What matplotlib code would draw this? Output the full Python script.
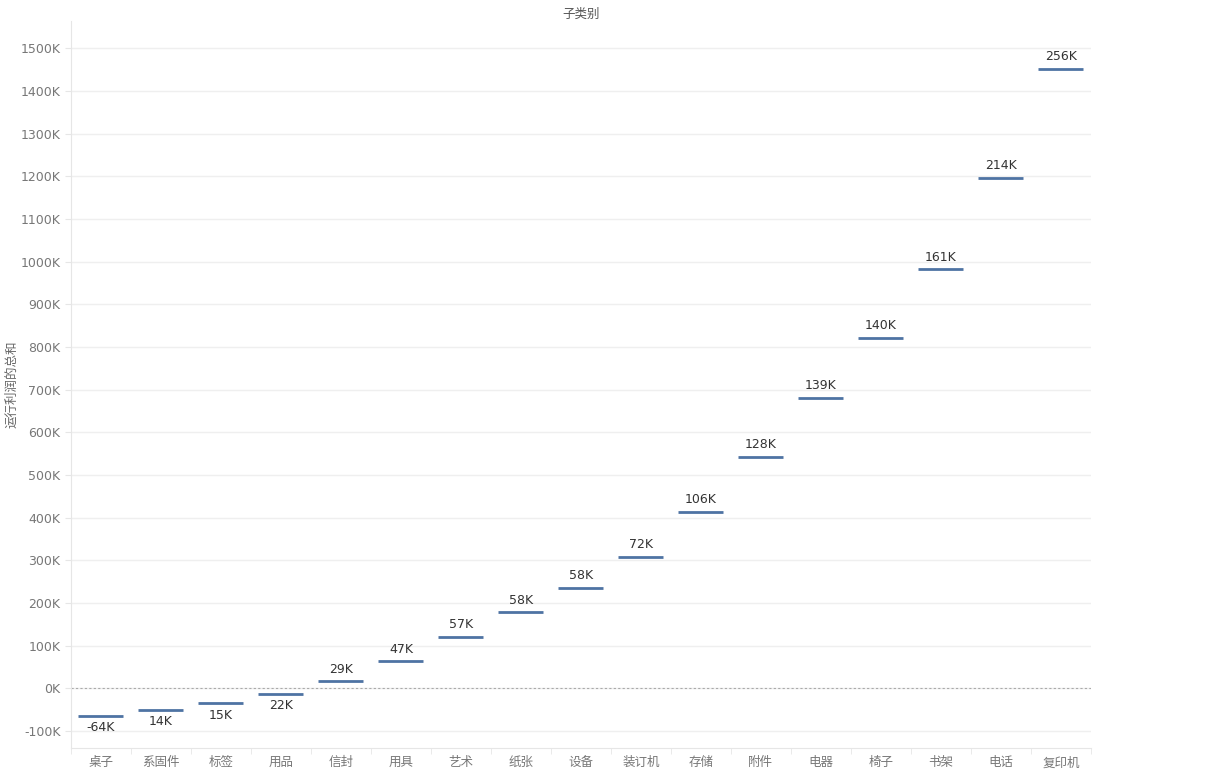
import numpy as np
import matplotlib
matplotlib.use("Agg")
from matplotlib import pyplot as plt
from matplotlib.ticker import FuncFormatter, MultipleLocator

plt.rcParams['font.family'] = ['Noto Sans CJK SC', 'DejaVu Sans']

categories = ['桌子', '系固件', '标签', '用品', '信封', '用具', '艺术', '纸张', '设备',
              '装订机', '存储', '附件', '电器', '椅子', '书架', '电话', '复印机']
profit_k = [-64, 14, 15, 22, 29, 47, 57, 58, 58, 72, 106, 128, 139, 140, 161, 214, 256]

running = np.cumsum(profit_k)
x = np.arange(len(categories))

fig = plt.figure(figsize=(12.07, 7.78), dpi=100)
ax = fig.add_axes([0.0588, 0.0386, 0.845, 0.935])

bar_color = '#4e73a3'
ax.hlines(running, x - 0.375, x + 0.375, color=bar_color, linewidth=2, zorder=3)

for xi, total, val in zip(x, running, profit_k):
    if total >= 0:
        ax.annotate(f'{val}K', (xi, total), xytext=(0, 4), textcoords='offset points',
                    ha='center', va='bottom', fontsize=9, color='#333333',
                    family=['DejaVu Sans'])
    else:
        ax.annotate(f'{val}K', (xi, total), xytext=(0, -4), textcoords='offset points',
                    ha='center', va='top', fontsize=9, color='#333333',
                    family=['DejaVu Sans'])

ax.set_xlim(-0.5, len(categories) - 0.5)
ax.set_ylim(-140, 1565)
ax.yaxis.set_major_locator(MultipleLocator(100))
ax.yaxis.set_major_formatter(FuncFormatter(lambda v, p: f'{int(v)}K'))
ax.grid(axis='y', color='#efefef', linewidth=1)
ax.set_axisbelow(True)
ax.axhline(0, color='#aaaaaa', linestyle=(0, (2, 2)), linewidth=0.8, zorder=2)

ax.set_xticks(x)
ax.set_xticklabels(categories, fontsize=9, color='#777777')
ax.set_xticks(np.arange(len(categories) + 1) - 0.5, minor=True)
ax.tick_params(axis='x', which='major', length=0, pad=6)
ax.tick_params(axis='x', which='minor', length=4, color='#e6e6e6', direction='out')
ax.tick_params(axis='y', labelsize=9, labelcolor='#777777', length=4, color='#e6e6e6')
for lbl in ax.get_yticklabels():
    lbl.set_family(['DejaVu Sans'])

for side in ['top', 'right']:
    ax.spines[side].set_visible(False)
ax.spines['left'].set_color('#e6e6e6')
ax.spines['bottom'].set_color('#e6e6e6')

ax.set_ylabel('运行利润的总和', fontsize=9, color='#666666')
ax.yaxis.set_label_coords(-0.052, 0.5)
ax.set_title('子类别', fontsize=9, color='#555555', pad=2, y=1.0)

fig.savefig('out.png', dpi=100)
